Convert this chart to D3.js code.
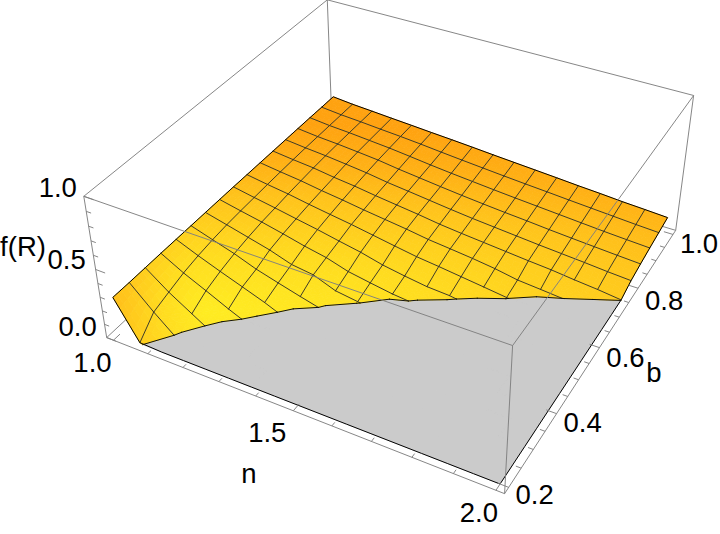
<!DOCTYPE html>
<html><head><meta charset="utf-8">
<style>html,body{margin:0;padding:0;background:#fff}svg{display:block}text{font-family:"Liberation Sans",Arial,sans-serif;fill:#000}</style>
<script src="https://cdn.jsdelivr.net/npm/d3@7"></script></head><body>
<script>
// ---------- data ----------
const nValues=[1,1.0625,1.125,1.1875,1.25,1.3125,1.375,1.4375,1.5,1.5625,1.625,1.6875,1.75,1.8125,1.875,1.9375,2];
const bValues=[.2,.25,.3,.35,.4,.45,.5,.55,.6,.65,.7,.75,.8,.85,.9,.95,1];
// f(R) per b row, per n column; values below 0 lie in the clipped (grey) region
const fR=[
[.283,.007,-.05,-.12,-.18,-.2,-.2,-.2,-.2,-.2,-.2,-.2,-.2,-.2,-.2,-.2,-.2],
[.283,.123,-.022,-.10,-.15,-.17,-.17,-.17,-.17,-.17,-.17,-.17,-.17,-.17,-.17,-.17,-.17],
[.285,.161,.058,-.045,-.10,-.13,-.14,-.15,-.15,-.15,-.15,-.15,-.15,-.15,-.15,-.15,-.15],
[.287,.197,.121,.042,-.03,-.08,-.10,-.12,-.12,-.12,-.12,-.12,-.12,-.12,-.12,-.12,-.12],
[.288,.221,.159,.10,.04,-.03,-.05,-.09,-.10,-.10,-.10,-.10,-.10,-.10,-.10,-.10,-.10],
[.289,.238,.188,.127,.08,.035,-.008,-.05,-.07,-.08,-.08,-.08,-.08,-.08,-.08,-.08,-.08],
[.29,.25,.209,.168,.114,.092,.028,.004,-.035,-.05,-.06,-.07,-.07,-.07,-.07,-.07,-.07],
[.291,.257,.225,.189,.15,.118,.068,.039,.012,-.005,-.03,-.045,-.05,-.06,-.07,-.07,-.07],
[.292,.262,.234,.204,.175,.142,.111,.07,.042,.018,.008,-.018,-.03,-.04,-.05,-.06,-.07],
[.292,.267,.245,.217,.192,.168,.14,.112,.085,.066,.045,.024,.002,-.022,-.03,-.04,-.05],
[.292,.271,.252,.227,.206,.182,.161,.14,.115,.098,.08,.058,.028,.014,-.001,-.022,-.035],
[.292,.274,.259,.236,.218,.195,.175,.155,.132,.115,.10,.085,.07,.057,.038,.022,.001],
[.292,.276,.263,.246,.228,.204,.186,.167,.148,.131,.117,.103,.089,.077,.065,.051,.04],
[.292,.276,.265,.251,.236,.214,.196,.178,.161,.146,.132,.12,.106,.094,.083,.072,.062],
[.292,.276,.266,.253,.24,.223,.205,.189,.175,.161,.148,.136,.124,.112,.10,.09,.081],
[.291,.276,.266,.254,.243,.23,.215,.201,.188,.175,.163,.152,.14,.129,.118,.107,.098],
[.291,.276,.266,.255,.245,.234,.224,.213,.201,.19,.179,.168,.156,.146,.134,.125,.115]
];
const nTickLabels=[1,1.5,2], bTickLabels=[.2,.4,.6,.8,1], zTickLabels=[0,.5,1];
const nMinor=d3.range(0,11).map(i=>1+i/10), bMinor=d3.range(0,17).map(i=>.2+i*.05), zMinor=d3.range(0,11).map(i=>i/10);

// ---------- scales to the unit box ----------
const sx=d3.scaleLinear([.98,2.02],[0,1]), sy=d3.scaleLinear([.184,1.016],[0,1]), sz=d3.scaleLinear([0,1],[0,1]);
// ---------- camera solved from the eight box corners ----------
const corners=[[0,0,0,106.7,338],[0,0,1,84,196],[0,1,1,326.5,0],[1,1,1,694,96],[1,1,0,675.5,230],[1,0,1,513,345],[1,0,0,504,494],[0,1,0,332.7,127]];
function solveCamera(){
  const A=[],B=[];
  corners.forEach(([X,Y,Z,x,y])=>{
    A.push([X,Y,Z,1,0,0,0,0,-x*X,-x*Y,-x*Z]);B.push(x);
    A.push([0,0,0,0,X,Y,Z,1,-y*X,-y*Y,-y*Z]);B.push(y);
  });
  const m=11,N=d3.range(m).map(i=>d3.range(m+1).map(j=>{
    let s=0;A.forEach((r,k)=>{s+=r[i]*(j<m?r[j]:B[k]);});return s;}));
  for(let c=0;c<m;c++){
    let p=c;for(let r=c+1;r<m;r++)if(Math.abs(N[r][c])>Math.abs(N[p][c]))p=r;
    [N[c],N[p]]=[N[p],N[c]];
    for(let r=0;r<m;r++)if(r!==c){const f=N[r][c]/N[c][c];for(let k=c;k<=m;k++)N[r][k]-=f*N[c][k];}
  }
  return d3.range(m).map(i=>N[i][m]/N[i][i]);
}
const P=solveCamera();
function proj(X,Y,Z){const w=P[8]*X+P[9]*Y+P[10]*Z+1;return [(P[0]*X+P[1]*Y+P[2]*Z+P[3])/w,(P[4]*X+P[5]*Y+P[6]*Z+P[7])/w];}
const pt=(n,b,z)=>proj(sx(n),sy(b),sz(z));

// ---------- page ----------
const svg=d3.select("body").append("svg").attr("width",720).attr("height",534);
const BOX="#808080";
const line=d3.line();
function boxEdge(g,a,b,w){g.append("path").attr("d",line([proj(...a),proj(...b)])).attr("stroke",BOX).attr("stroke-width",w||.95).attr("fill","none");}
const back=svg.append("g");
boxEdge(back,[0,1,0],[0,1,1]);boxEdge(back,[0,0,0],[0,1,0]);boxEdge(back,[0,1,0],[1,1,0]);
function clip(poly,sign,onCross){
  const out=[],cross=[];
  poly.forEach((p,i)=>{
    const q=poly[(i+1)%poly.length],pi=sign*p[2]>=0,qi=sign*q[2]>=0;
    if(pi)out.push(p);
    if(pi!==qi){const t=p[2]/(p[2]-q[2]),c=[p[0]+t*(q[0]-p[0]),p[1]+t*(q[1]-p[1]),0];out.push(c);cross.push(c);}
  });
  if(onCross&&cross.length===2)onCross(cross);
  return out;
}
const shade=d3.scaleLinear().domain([0,.3,.6,.8,1,1.3]).range(["#FFEC22","#FFDC20","#FFC41C","#FFB015","#FFA210","#FFA210"]);
function surfaceColor(x,y){
  const dx=(x-205)/(x<205?140:800),dy=(y-312)/190;
  return shade(Math.sqrt(dx*dx+dy*dy));
}
const SUB=4;
const gray=svg.append("g"),surf=svg.append("g"),mesh=svg.append("g"),edge=svg.append("g");
const curve=[];
let grayPath="";
function paint(poly){
  const pts=poly.map(p=>pt(p[0],p[1],p[2]));
  const col=surfaceColor(d3.mean(pts,p=>p[0]),d3.mean(pts,p=>p[1]));
  surf.append("path").attr("d",line(pts)+"Z").attr("fill",col).attr("stroke",col).attr("stroke-width",.8);
}
const mid=(a,b)=>[0,1,2].map(k=>(a[k]+b[k])/2);
function paintTri(a,b,c,depth){
  if(depth===0){paint([a,b,c]);return;}
  const ab=mid(a,b),bc=mid(b,c),ca=mid(c,a);
  paintTri(a,ab,ca,depth-1);paintTri(ab,b,bc,depth-1);paintTri(ca,bc,c,depth-1);paintTri(ab,bc,ca,depth-1);
}
const bl=(c,u,v)=>[0,1,2].map(k=>(1-u)*(1-v)*c[0][k]+u*(1-v)*c[1][k]+u*v*c[2][k]+(1-u)*v*c[3][k]);
for(let j=0;j<16;j++)for(let i=0;i<16;i++){
  const c=[[nValues[i],bValues[j],fR[j][i]],[nValues[i+1],bValues[j],fR[j][i+1]],[nValues[i+1],bValues[j+1],fR[j+1][i+1]],[nValues[i],bValues[j+1],fR[j+1][i]]];
  if(c.every(p=>p[2]>=0)){
    for(let a=0;a<SUB;a++)for(let d=0;d<SUB;d++)
      paint([bl(c,a/SUB,d/SUB),bl(c,(a+1)/SUB,d/SUB),bl(c,(a+1)/SUB,(d+1)/SUB),bl(c,a/SUB,(d+1)/SUB)]);
  }else{
    const up=clip(c,1,s=>curve.push(s));
    for(let k=1;k<up.length-1;k++)paintTri(up[0],up[k],up[k+1],2);
    const dn=clip(c,-1);
    if(dn.length>2)grayPath+=line(dn.map(p=>pt(p[0],p[1],0)))+"Z";
  }
}
gray.append("path").attr("d",grayPath).attr("fill","#CBCBCB").attr("stroke","#CBCBCB").attr("stroke-width",.6);
function meshLine(nodes){
  for(let k=0;k<nodes.length-1;k++){
    const s=clip([nodes[k],nodes[k+1]],1).filter(p=>p[2]>=0);
    if(s.length>=2){const a=s[0],b=s[s.length-1];
      mesh.append("path").attr("d",line([pt(a[0],a[1],a[2]),pt(b[0],b[1],b[2])])).attr("fill","none").attr("stroke","#403c28").attr("stroke-width",1).attr("stroke-linecap","round");}
  }
}
for(let i=1;i<16;i++)meshLine(bValues.map((b,j)=>[nValues[i],b,fR[j][i]]));
for(let j=1;j<16;j++)meshLine(nValues.map((n,i)=>[n,bValues[j],fR[j][i]]));
const border=[
 ...nValues.map((n,i)=>[n,bValues[0],fR[0][i]]),
 ...bValues.slice(1).map((b,j)=>[2,b,fR[j+1][16]]),
 ...nValues.slice(0,16).reverse().map((n,i)=>[n,1,fR[16][15-i]]),
 ...bValues.slice(0,16).reverse().map((b,j)=>[1,b,fR[15-j][0]])
];
edge.append("path").attr("d",line(border.map(p=>pt(p[0],p[1],Math.max(0,p[2]))))+"Z").attr("fill","none").attr("stroke","#000").attr("stroke-width",1).attr("stroke-linejoin","round");
curve.forEach(s=>edge.append("path").attr("d",line(s.map(p=>pt(p[0],p[1],0)))).attr("fill","none").attr("stroke","#111").attr("stroke-width",1).attr("stroke-linecap","round"));
const front=svg.append("g");
[[[0,0,0],[0,0,1]],[[0,0,1],[0,1,1]],[[0,1,1],[1,1,1]],[[1,1,1],[1,1,0]],[[1,1,1],[1,0,1]],[[1,0,1],[0,0,1]],[[1,0,1],[1,0,0]],[[0,0,0],[1,0,0]],[[1,0,0],[1,1,0]]].forEach(e=>boxEdge(front,e[0],e[1]));
const near=(a,b)=>Math.abs(a-b)<1e-6;
zMinor.forEach(z=>{const L=zTickLabels.some(t=>near(t,z))?.026:.013;boxEdge(front,[0,0,sz(z)],[L,0,sz(z)]);});
nMinor.forEach(n=>{const L=nTickLabels.some(t=>near(t,n))?.024:.012;boxEdge(front,[sx(n),0,0],[sx(n),L,0]);});
bMinor.forEach(b=>{const L=bTickLabels.some(t=>near(t,b))?.024:.012;boxEdge(front,[1,sy(b),0],[1-L,sy(b),0]);});
const FS=27.5;
function label(p,dx,dy,s){svg.append("text").attr("x",p[0]+dx).attr("y",p[1]+dy).attr("text-anchor","middle").attr("dominant-baseline","central").attr("font-size",FS).text(s);}
const fmt=d3.format(".1f");
const nOff=d3.scaleLinear([1,1.5,2],[-21,-26,-17]);
const zOff=d3.scaleLinear([0,.5,1],[-29,-29,-26]), zOffY=d3.scaleLinear([0,.5,1],[-11,-10,-9]);
const bOffY=d3.scaleLinear([.2,.6,.8,1],[7,10,12,9]);
zTickLabels.forEach(z=>label(proj(0,0,sz(z)),zOff(z),zOffY(z),fmt(z)));
nTickLabels.forEach(n=>label(proj(sx(n),0,0),nOff(n),22,fmt(n)));
bTickLabels.forEach(b=>label(proj(1,sy(b),0),26,bOffY(b),fmt(b)));
label([23,246],0,0,"f(R)");
label([249,473],0,0,"n");
label([654,372],0,0,"b");
</script></body></html>
